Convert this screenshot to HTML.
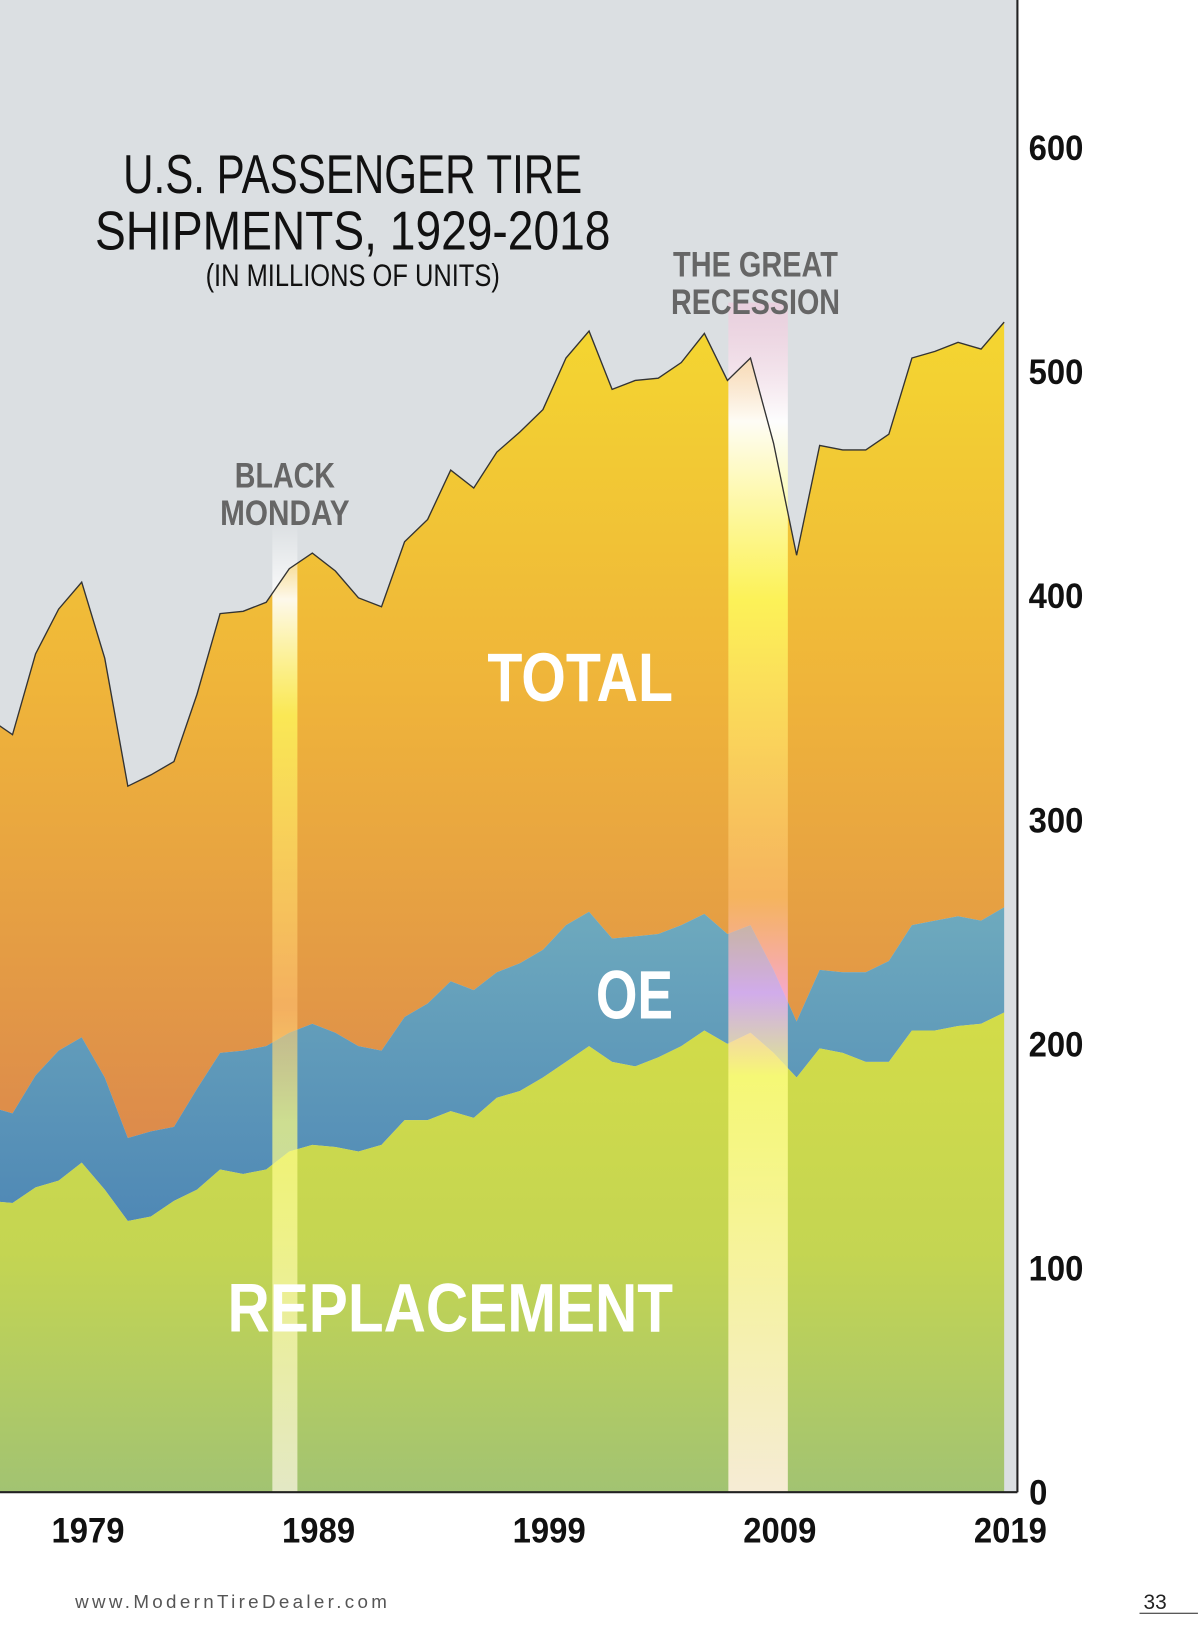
<!DOCTYPE html>
<html><head><meta charset="utf-8"><style>
html,body{margin:0;padding:0;background:#fff;}
svg{display:block;font-family:"Liberation Sans",sans-serif;}
</style></head><body>
<svg id="chart" width="1200" height="1638" viewBox="0 0 1200 1638">
<defs>
<linearGradient id="gTot" x1="0" y1="300" x2="0" y2="1100" gradientUnits="userSpaceOnUse">
<stop offset="0" stop-color="#f4d730"/><stop offset="0.45" stop-color="#efb43a"/><stop offset="1" stop-color="#dc8a4c"/></linearGradient>
<linearGradient id="gOe" x1="0" y1="860" x2="0" y2="1170" gradientUnits="userSpaceOnUse">
<stop offset="0" stop-color="#6fabbe"/><stop offset="1" stop-color="#4f88b5"/></linearGradient>
<linearGradient id="gRep" x1="0" y1="970" x2="0" y2="1430" gradientUnits="userSpaceOnUse">
<stop offset="0" stop-color="#d3dc48"/><stop offset="0.5" stop-color="#c4d552"/><stop offset="1" stop-color="#a2c372"/></linearGradient>
<linearGradient id="gBand" x1="0" y1="500" x2="0" y2="1430" gradientUnits="userSpaceOnUse">
<stop offset="0" stop-color="#fff" stop-opacity="0"/><stop offset="0.08" stop-color="#fff" stop-opacity="0.9"/><stop offset="0.2" stop-color="#ffff60" stop-opacity="0.7"/><stop offset="0.5" stop-color="#ffc070" stop-opacity="0.6"/><stop offset="0.62" stop-color="#ffff80" stop-opacity="0.7"/><stop offset="1" stop-color="#fff8e8" stop-opacity="0.7"/></linearGradient>
<linearGradient id="gBand2" x1="0" y1="290" x2="0" y2="1430" gradientUnits="userSpaceOnUse">
<stop offset="0" stop-color="#f4c0d8" stop-opacity="0.5"/><stop offset="0.1" stop-color="#fff" stop-opacity="0.95"/><stop offset="0.25" stop-color="#ffff60" stop-opacity="0.8"/><stop offset="0.5" stop-color="#ffc070" stop-opacity="0.6"/><stop offset="0.58" stop-color="#ffb0ff" stop-opacity="0.7"/><stop offset="0.65" stop-color="#ffff80" stop-opacity="0.8"/><stop offset="1" stop-color="#fff0e0" stop-opacity="0.9"/></linearGradient>
</defs>
<g transform="scale(1.0435)">
<rect x="0" y="0" width="975" height="1430" fill="#dbdfe2"/>
<g id="areas"></g>
<rect x="261" y="500" width="24" height="930" fill="url(#gBand)"/>
<rect x="698" y="290" width="57" height="1140" fill="url(#gBand2)"/>
<path id="totLine" fill="none" stroke="#333" stroke-width="1.3"/>
<line x1="975" y1="0" x2="975" y2="1430" stroke="#222" stroke-width="2"/>
<line x1="0" y1="1430" x2="975" y2="1430" stroke="#222" stroke-width="2"/>
<g id="yticks"></g><g id="xticks"></g>
<g fill="#111">
<text x="338" y="185" font-size="52" text-anchor="middle" textLength="440" lengthAdjust="spacingAndGlyphs">U.S. PASSENGER TIRE</text>
<text x="338" y="239" font-size="52" text-anchor="middle" textLength="494" lengthAdjust="spacingAndGlyphs">SHIPMENTS, 1929-2018</text>
<text x="338" y="274" font-size="30" text-anchor="middle" textLength="282" lengthAdjust="spacingAndGlyphs">(IN MILLIONS OF UNITS)</text>
</g>
<g fill="#666" font-weight="bold">
<text x="273" y="467" font-size="34" text-anchor="middle" textLength="96" lengthAdjust="spacingAndGlyphs">BLACK</text>
<text x="273" y="503" font-size="34" text-anchor="middle" textLength="124" lengthAdjust="spacingAndGlyphs">MONDAY</text>
</g>
<g fill="#666" font-weight="bold">
<text x="724" y="265" font-size="34" text-anchor="middle" textLength="158" lengthAdjust="spacingAndGlyphs">THE GREAT</text>
<text x="724" y="301" font-size="34" text-anchor="middle" textLength="162" lengthAdjust="spacingAndGlyphs">RECESSION</text>
</g>
<text x="645" y="672" font-size="66" font-weight="bold" fill="#fff" text-anchor="end" textLength="178" lengthAdjust="spacingAndGlyphs">TOTAL</text>
<text x="645" y="976" font-size="66" font-weight="bold" fill="#fff" text-anchor="end" textLength="74" lengthAdjust="spacingAndGlyphs">OE</text>
<text x="645" y="1276" font-size="66" font-weight="bold" fill="#fff" text-anchor="end" textLength="427" lengthAdjust="spacingAndGlyphs">REPLACEMENT</text>
<text x="72" y="1541" font-size="18" fill="#555" letter-spacing="3.2">www.ModernTireDealer.com</text>
<text x="1107" y="1542" font-size="20" fill="#222" text-anchor="middle">33</text>
<line x1="1092" y1="1546" x2="1148" y2="1546" stroke="#222" stroke-width="1"/>
</g>
</svg>
<script>
const years = [1975,1976,1977,1978,1979,1980,1981,1982,1983,1984,1985,1986,1987,1988,1989,1990,1991,1992,1993,1994,1995,1996,1997,1998,1999,2000,2001,2002,2003,2004,2005,2006,2007,2008,2009,2010,2011,2012,2013,2014,2015,2016,2017,2018,2019];
const totalValues = [345,338,374,394,406,372,315,320,326,356,392,393,397,412,419,411,399,395,424,434,456,448,464,473,483,506,518,492,496,497,504,517,496,506,468,418,467,465,465,472,506,509,513,510,522];
const oeTopValues = [172,169,186,197,203,185,158,161,163,180,196,197,199,205,209,205,199,197,212,218,228,224,232,236,242,253,259,247,248,249,253,258,249,253,233,210,233,232,232,237,253,255,257,255,261];
const replacementValues = [130,129,136,139,147,135,121,123,130,135,144,142,144,152,155,154,152,155,166,166,170,167,176,179,185,192,199,192,190,194,199,206,200,205,196,185,198,196,192,192,206,206,208,209,214];
const yTicks = [0,100,200,300,400,500,600];
const xTicks = [1979,1989,1999,2009,2019];

const x = yr => 12 + (yr - 1976) * 22.1;
const y = v => 1430 - v * 2.148;
const NS = 'http://www.w3.org/2000/svg';

function linePts(vals){ return vals.map((v,i)=>x(years[i]).toFixed(1)+','+y(v).toFixed(1)); }
function band(top, bottom){
  const t = linePts(top);
  const b = bottom ? linePts(bottom).reverse() : [x(years[years.length-1]).toFixed(1)+','+y(0), x(years[0]).toFixed(1)+','+y(0)];
  return 'M'+t.join('L')+'L'+b.join('L')+'Z';
}
const areas = document.getElementById('areas');
const pTot = document.createElementNS(NS,'path');
pTot.setAttribute('d', band(totalValues, oeTopValues));
pTot.setAttribute('fill','url(#gTot)');


areas.appendChild(pTot);
const pOe = document.createElementNS(NS,'path');
pOe.setAttribute('d', band(oeTopValues, replacementValues));
pOe.setAttribute('fill','url(#gOe)');


areas.appendChild(pOe);
const pRep = document.createElementNS(NS,'path');
pRep.setAttribute('d', band(replacementValues, null));
pRep.setAttribute('fill','url(#gRep)');


areas.appendChild(pRep);
document.getElementById('totLine').setAttribute('d','M'+linePts(totalValues).join('L'));

const yg = document.getElementById('yticks');
yTicks.forEach(t=>{
  const el = document.createElementNS(NS,'text');
  el.setAttribute('x', t===0 ? 995 : 1012);
  el.setAttribute('y', y(t)+12);
  el.setAttribute('font-size','34');
  el.setAttribute('font-weight','bold');
  el.setAttribute('fill','#111');
  el.setAttribute('text-anchor','middle');
  el.setAttribute('textLength', String(String(t).length*17.5));
  el.setAttribute('lengthAdjust','spacingAndGlyphs');
  
  
  el.textContent = t;
  yg.appendChild(el);
});
const xg = document.getElementById('xticks');
xTicks.forEach(t=>{
  const el = document.createElementNS(NS,'text');
  el.setAttribute('x', x(t)+6);
  el.setAttribute('y', 1478);
  el.setAttribute('font-size','34');
  el.setAttribute('font-weight','bold');
  el.setAttribute('fill','#111');
  el.setAttribute('text-anchor','middle');
  el.setAttribute('textLength','70');
  el.setAttribute('lengthAdjust','spacingAndGlyphs');
  
  
  el.textContent = t;
  xg.appendChild(el);
});
</script>
</body></html>
